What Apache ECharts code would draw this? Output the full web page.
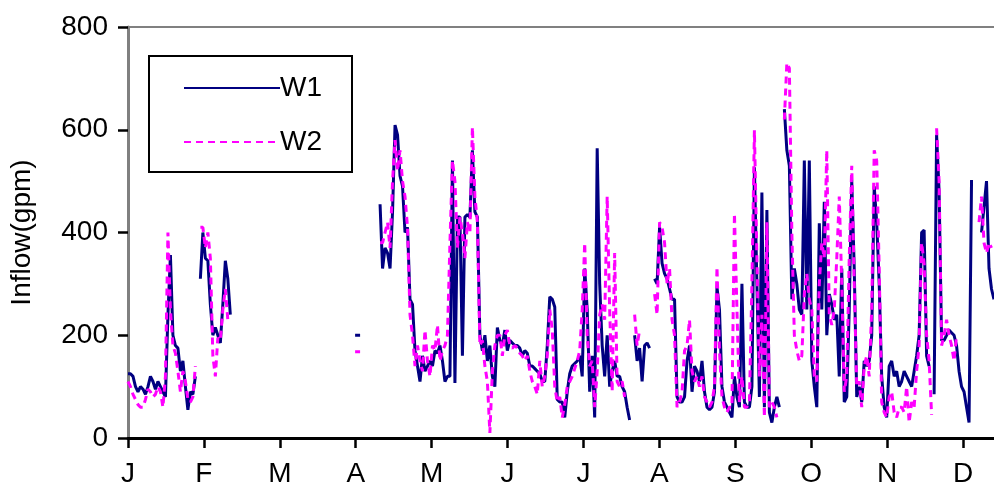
<!DOCTYPE html>
<html>
<head>
<meta charset="utf-8">
<script src="https://cdn.jsdelivr.net/npm/echarts@6/dist/echarts.min.js"></script>
<style>
  html, body { margin: 0; padding: 0; background: #fff; }
  #main { width: 994px; height: 489px; }
</style>
</head>
<body>
<div id="main"></div>
<script>
  // month letters and tick positions (day of year, evenly spaced)
  var months = ['J', 'F', 'M', 'A', 'M', 'J', 'J', 'A', 'S', 'O', 'N', 'D'];
  var monthLen = 365 / 12;
  var monthTicks = months.map(function (m, i) { return i * monthLen; });
  var yTicks = [0, 200, 400, 600, 800];

  // daily inflow (gpm), null = no data
  var w1 = [
    125,125,120,100,90,100,95,85,100,120,
    110,95,110,100,90,80,240,356,200,180,
    175,130,150,100,55,90,85,120,null,310,
    400,350,345,260,200,215,200,185,260,345,
    310,240,null,null,null,null,null,null,null,null,
    null,null,null,null,null,null,null,null,null,null,
    null,null,null,null,null,null,null,null,null,null,
    null,null,null,null,null,null,null,null,null,null,
    null,null,null,null,null,null,null,null,null,null,
    null,200,200,200,null,null,null,null,null,null,
    null,455,330,370,360,330,440,609,590,510,
    490,400,410,270,260,170,140,110,160,130,
    140,150,140,170,165,180,150,110,120,120,
    540,107,430,430,160,430,435,430,560,440,
    430,200,170,200,150,180,120,100,215,190,
    180,210,170,190,185,180,180,175,160,170,
    165,140,140,135,130,125,110,110,180,275,
    270,255,75,70,70,40,90,125,140,145,
    150,160,120,330,250,90,160,40,564,300,
    180,120,200,100,130,150,120,120,100,90,
    60,35,null,200,150,175,110,180,185,175,
    null,310,300,410,340,320,310,290,270,270,
    80,70,70,80,150,180,90,140,130,110,
    150,90,60,55,60,90,294,250,100,70,
    60,50,40,120,80,60,300,70,60,60,
    100,527,300,80,478,60,444,50,30,60,
    80,60,null,640,560,530,270,330,300,250,
    240,540,250,540,150,100,60,418,250,460,
    200,280,260,230,240,120,330,70,80,250,
    502,330,80,100,70,150,140,150,200,490,
    420,300,120,60,40,140,150,120,130,100,
    110,130,120,110,100,130,160,200,400,405,
    160,140,null,85,590,480,190,190,200,210,
    205,200,180,130,100,90,60,30,502,null,
    null,null,400,450,500,330,290,270
  ];

  var w2 = [
    110,100,85,75,65,60,60,75,95,90,
    80,85,100,90,60,120,400,250,180,165,
    130,90,130,110,75,70,80,140,null,410,
    410,370,400,350,160,120,195,190,250,290,
    230,null,null,null,null,null,null,null,null,null,
    null,null,null,null,null,null,null,null,null,null,
    null,null,null,null,null,null,null,null,null,null,
    null,null,null,null,null,null,null,null,null,null,
    null,null,null,null,null,null,null,null,null,null,
    null,168,168,168,null,null,null,null,null,null,
    null,380,380,400,420,370,500,580,520,560,
    500,470,410,240,200,140,180,150,130,210,
    150,120,180,170,220,150,170,180,200,380,
    540,500,370,430,400,350,420,400,605,470,
    420,180,190,140,110,10,130,180,200,200,
    160,200,210,180,175,180,175,165,160,150,
    160,130,110,100,85,150,100,120,160,250,
    210,100,70,80,40,65,100,110,120,135,
    150,170,250,380,200,140,150,60,130,240,
    260,230,470,250,90,360,110,100,110,80,
    null,null,null,240,180,210,null,null,null,null,
    null,280,240,420,410,380,300,330,230,200,
    60,70,90,170,180,230,130,110,120,100,
    120,80,70,60,70,100,333,170,80,60,
    50,60,60,437,250,70,120,60,60,70,
    300,599,350,120,240,40,420,60,70,60,
    40,null,null,620,730,720,400,200,170,150,
    160,280,320,270,250,120,110,300,380,350,
    560,240,220,250,350,470,300,90,120,350,
    530,300,100,110,60,140,160,120,250,560,
    540,330,70,50,40,80,90,50,40,60,
    60,50,100,30,70,60,130,180,380,340,
    200,150,45,null,603,500,180,200,230,200,
    180,150,200,null,null,null,null,null,null,null,
    null,420,470,380,360,380,370,null
  ];

  function toPairs(arr) {
    return arr.map(function (v, i) { return [i, v]; });
  }

  var font = 'Liberation Sans, Arial, sans-serif';
  var myChart = echarts.init(document.getElementById('main'));

  var option = {
    animation: false,
    backgroundColor: '#fff',
    grid: { left: 127, right: 0, top: 27, bottom: 51 },
    legend: {
      orient: 'vertical',
      left: 149,
      top: 56,
      itemWidth: 96,
      itemHeight: 14,
      itemGap: 26,
      padding: [18, 30, 16, 34],
      borderColor: '#000',
      borderWidth: 2,
      backgroundColor: '#fff',
      itemStyle: { opacity: 0 },
      textStyle: { fontFamily: font, fontSize: 28, color: '#000', padding: [0, 0, 0, -5] },
      data: ['W1', 'W2']
    },
    xAxis: {
      type: 'value',
      min: 0,
      max: 347,
      axisLine: { lineStyle: { color: '#000', width: 3 } },
      axisTick: { customValues: monthTicks, length: 10, lineStyle: { color: '#000', width: 2.5 } },
      axisLabel: {
        customValues: monthTicks,
        margin: 22,
        fontFamily: font,
        fontSize: 28,
        color: '#000',
        formatter: function (v) { return months[Math.round(v / monthLen)]; }
      },
      splitLine: { show: false }
    },
    yAxis: {
      type: 'value',
      min: 0,
      max: 800,
      interval: 200,
      name: 'Inflow(gpm)',
      nameLocation: 'middle',
      nameGap: 92,
      nameTextStyle: { fontFamily: font, fontSize: 28, color: '#000' },
      axisLine: { show: true, lineStyle: { color: '#808080', width: 3 } },
      axisTick: { show: true, length: 10, lineStyle: { color: '#000', width: 2.5 } },
      axisLabel: {
        margin: 20,
        fontFamily: font,
        fontSize: 28,
        color: '#000',
        formatter: function (v) { return yTicks.indexOf(v) >= 0 ? String(v) : ''; }
      },
      splitLine: {
        show: true,
        lineStyle: { color: ['transparent', 'transparent', 'transparent', 'transparent', '#808080'], width: 2 }
      }
    },
    series: [
      {
        name: 'W1',
        type: 'line',
        showSymbol: false,
        symbol: 'none',
        connectNulls: false,
        lineStyle: { color: '#000080', width: 3 },
        itemStyle: { color: '#000080' },
        data: toPairs(w1)
      },
      {
        name: 'W2',
        type: 'line',
        showSymbol: false,
        symbol: 'none',
        connectNulls: false,
        lineStyle: { color: '#ff00ff', width: 3, type: [7, 5] },
        itemStyle: { color: '#ff00ff' },
        data: toPairs(w2)
      }
    ]
  };

  myChart.setOption(option);
</script>
</body>
</html>
